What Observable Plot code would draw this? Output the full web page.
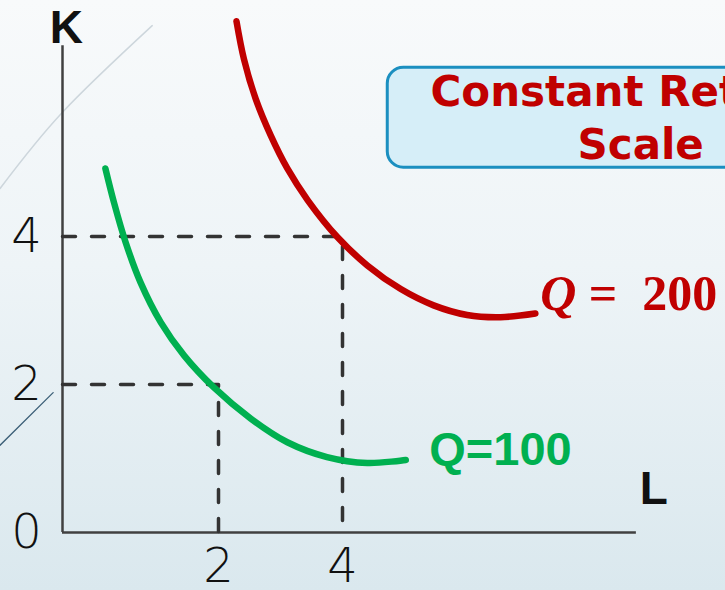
<!DOCTYPE html>
<html>
<head>
<meta charset="utf-8">
<script src="https://cdn.jsdelivr.net/npm/d3@7"></script>
<script src="https://cdn.jsdelivr.net/npm/@observablehq/plot@0.6"></script>
<style>
  html, body { margin: 0; padding: 0; overflow: hidden; }
  body { width: 725px; height: 590px; background: linear-gradient(to bottom, #f8fafb 0%, #eef4f7 45%, #dae8ee 100%); }
  #chart svg { overflow: hidden; display: block; }
</style>
</head>
<body>
<div id="chart"></div>
<script>
// ---- data ----
// Isoquant Q=100 (L, K)
const q100L = [0.55, 0.66, 0.81, 1.00, 1.26, 1.56, 1.94, 2.52, 3.11, 3.75, 4.40, 5.02];
const q100K = [4.92, 4.46, 3.92, 3.38, 2.84, 2.39, 1.96, 1.54, 1.22, 1.02, 0.94, 0.98];
// Isoquant Q=200 (L, K)
const q200L = [2.29, 2.41, 2.60, 2.84, 3.11, 3.44, 3.92, 4.40, 4.94, 5.47, 6.01, 6.55, 7.11];
const q200K = [6.91, 6.40, 5.86, 5.37, 4.92, 4.49, 3.99, 3.61, 3.29, 3.07, 2.94, 2.91, 2.96];
// Reference input combinations (L, K) for the dashed guides
const pointL = [2, 4];
const pointK = [2, 4];
// Tick labels
const xTickValues = [2, 4];
const yTickValues = [0, 2, 4];
// Axis extents
const axisLMax = 8.74;
const axisKMax = 6.58;
// Labels
const axisLabelL = "L";
const axisLabelK = "K";
const label100 = "Q=100";
const label200Q = "Q";
const label200Rest = "=\u2002200";
const titleLines = ["Constant Returns to", "Scale"];
// Decorative slide arcs
const decorLightL = [-0.80, 0.00, 1.15];
const decorLightK = [4.65, 5.68, 6.85];
const decorDarkL = [-0.80, -0.12];
const decorDarkK = [1.18, 1.89];

const green = "#00b050";
const red = "#c00000";
const axisColor = "#404040";
const dashColor = "#333333";

const q100 = q100L.map((l, i) => ({L: l, K: q100K[i]}));
const q200 = q200L.map((l, i) => ({L: l, K: q200K[i]}));
const guides = pointL.map((l, i) => [{L: 0, K: pointK[i]}, {L: l, K: pointK[i]}, {L: l, K: 0}]);
const decorLight = decorLightL.map((l, i) => ({L: l, K: decorLightK[i]}));
const decorDark = decorDarkL.map((l, i) => ({L: l, K: decorDarkK[i]}));

const plot = Plot.plot({
  width: 725,
  height: 590,
  marginTop: 0, marginRight: 0, marginBottom: 0, marginLeft: 0,
  style: {background: "transparent", overflow: "hidden"},
  x: {type: "linear", domain: [0, 2, 4, 9], range: [62, 218, 342, 652], axis: null},
  y: {type: "linear", domain: [0, 7.19], range: [532, 0], axis: null},
  marks: [
    // decorative slide arcs
    Plot.line(decorLight, {x: "L", y: "K", stroke: "#cdd6dc", strokeWidth: 1.5, curve: "natural"}),
    Plot.line(decorDark, {x: "L", y: "K", stroke: "#3d6078", strokeWidth: 1.3}),
    // callout box
    Plot.rect([{x1: 4.73, x2: 10.5, y1: 4.93, y2: 6.28}], {x1: "x1", x2: "x2", y1: "y1", y2: "y2", fill: "#d6eef8", stroke: "#1b8fc0", strokeWidth: 3, rx: 16}),
    Plot.text([titleLines[0]], {x: 5.42, y: 5.95, text: d => d, textAnchor: "start", fill: red, fontSize: 42, fontWeight: "bold", fontFamily: "DejaVu Sans, sans-serif"}),
    Plot.text([titleLines[1]], {x: 7.79, y: 5.23, text: d => d, textAnchor: "start", fill: red, fontSize: 42, fontWeight: "bold", fontFamily: "DejaVu Sans, sans-serif"}),
    // axes
    Plot.ruleX([0], {y1: 0, y2: axisKMax, stroke: axisColor, strokeWidth: 2.5}),
    Plot.ruleY([0], {x1: 0, x2: axisLMax, stroke: axisColor, strokeWidth: 2.5}),
    // dashed guides
    ...guides.map(g => Plot.line(g, {x: "L", y: "K", stroke: dashColor, strokeWidth: 3.5, strokeDasharray: "13,16", strokeLinecap: "round"})),
    // isoquants
    Plot.line(q100, {x: "L", y: "K", stroke: green, strokeWidth: 6.5, curve: "catmull-rom", strokeLinecap: "round"}),
    Plot.line(q200, {x: "L", y: "K", stroke: red, strokeWidth: 6.5, curve: "catmull-rom", strokeLinecap: "round"}),
    // tick labels
    Plot.text(xTickValues, {x: d => d, y: -0.46, text: d => String(d), fontSize: 48, fontWeight: 200, fill: "#111", fontFamily: "DejaVu Sans, sans-serif"}),
    Plot.text(yTickValues, {x: -0.46, y: d => d, text: d => String(d), fontSize: 48, fontWeight: 200, fill: "#111", fontFamily: "DejaVu Sans, sans-serif"}),
    // axis labels
    Plot.text([axisLabelK], {x: 0.05, y: 6.82, text: d => d, fontSize: 46, fontWeight: "bold", fill: "#111", fontFamily: "Liberation Sans, Arial, sans-serif"}),
    Plot.text([axisLabelL], {x: 9.02, y: 0.58, text: d => d, fontSize: 46, fontWeight: "bold", fill: "#111", fontFamily: "Liberation Sans, Arial, sans-serif"}),
    // curve labels
    Plot.text([label100], {x: 5.40, y: 1.12, text: d => d, textAnchor: "start", fontSize: 47, fontWeight: "bold", fill: green, fontFamily: "Liberation Sans, Arial, sans-serif"}),
    Plot.text([label200Q], {x: 7.19, y: 3.22, text: d => d, textAnchor: "start", fontSize: 50, fontWeight: "bold", fontStyle: "italic", fill: red, fontFamily: "Liberation Serif, serif"}),
    Plot.text([label200Rest], {x: 7.97, y: 3.22, text: d => d, textAnchor: "start", fontSize: 50, fontWeight: "bold", fill: red, fontFamily: "Liberation Serif, serif"})
  ]
});
document.getElementById("chart").append(plot);
</script>
</body>
</html>
